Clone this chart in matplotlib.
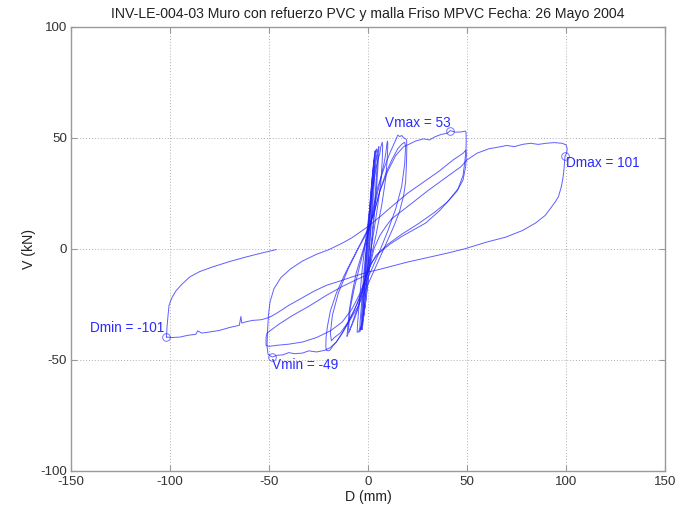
import matplotlib
matplotlib.use("Agg")
import matplotlib.pyplot as plt

plt.rcParams['font.family'] = ['Liberation Sans', 'DejaVu Sans']
plt.rcParams['axes.unicode_minus'] = False

# ---- data (D in mm, V in kN) ----
small_D = [0, 0.5, 1.0, 1.5, 1.2, 0.5, -0.3, -1.0, -1.5, -1.2, -0.5, 0.3, 1.0, 1.8, 2.2, 1.8,
           1.0, 0.0, -1.0, -1.8, -2.2, -1.9, -1.0, 0.0, 1.0, 2.0, 2.8, 3.2, 2.9, 2.0, 1.0, 0.0,
           -1.0, -2.0, -2.8, -3.2, -2.9, -2.0, -1.0, 0.0, 1.0, 2.0, 3.0, 3.5, 3.2, 2.2, 1.0, 0.0,
           -1.0, -2.0, -3.0, -3.6, -3.3, -2.2, -1.0, 0.0]
small_V = [0, 8, 16, 22, 18, 6, -5, -13, -20, -16, -6, 4, 14, 24, 30, 25,
           13, 0, -12, -22, -28, -24, -12, 2, 15, 27, 36, 40, 34, 20, 6, -6,
           -16, -26, -33, -35, -30, -17, -4, 8, 20, 31, 40, 44, 39, 24, 9, -4,
           -15, -25, -33, -36.5, -31, -17, -3, 9]

mid_D = [0, 0.8, 1.6, 2.4, 3.0, 3.6, 4.0, 3.9, 3.4, 2.6, 1.6, 0.6, -0.4, -1.2, -2.0, -2.6, -3.0,
         -2.8, -2.2, -1.4, -0.5, 0.4, 1.2, 2.0, 2.8, 3.5, 4.5, 4.8, 4.4, 3.6, 2.6, 1.5, 0.5, -0.5,
         -1.5, -2.5, -3.5, -4.2, -4.0, -3.2, -2.2, -1.0, 0, 1, 2, 3, 4, 5, 5.5, 5.3, 4.6, 3.5, 2.2,
         1, 0, -1, -2.2, -3.5, -5, -5.5, -5.2, -4.2, -3, -1.5, 0, 1]
mid_V = [9, 18, 27, 35, 40, 43, 44.5, 41, 33, 22, 10, -2, -13, -22, -29, -34, -36.5,
         -33, -24, -12, 0, 11, 21, 30, 37, 42, 45, 43, 35, 24, 12, 0, -10, -18,
         -26, -32, -36, -37.5, -33, -24, -12, 0, 9, 16, 26, 34, 40, 44, 46, 41, 31, 18, 5,
         -6, -15, -23, -30, -35, -37.6, -37.6, -33, -22, -10, 2, 12, 19]

c10_D = [0, 1, 2, 3, 4, 5, 6, 6.5, 7.2, 7.4, 7.2, 6.5, 5, 3, 1, -1, -3, -5, -7, -9, -10.2, -10.6,
         -10.3, -9.5, -8, -6, -3, 0, 2, 4, 6, 8, 9, 9.5, 9.8, 10, 9.8, 9, 7, 4, 1, -2, -5, -7,
         -8.5, -9.5, -9.8, -9, -7, -4, -1, 1]
c10_V = [9, 17, 25, 31, 36, 40, 43, 46, 48, 46.5, 40, 30, 20, 8, -3, -12, -20, -27, -32, -36, -38.5, -39.5,
         -36, -28, -20, -11, -2, 7, 14, 22, 30, 38, 43, 47, 48.5, 47.5, 42, 32, 20, 6, -6, -16, -26, -31,
         -35, -37.5, -36, -27, -18, -7, 3, 10]

c20_D = [1, 3, 5, 8, 11, 13, 14.5, 15, 16, 17, 18, 19, 19.5, 19.6, 19.4, 19, 18, 16, 13, 10, 7, 4, 1,
         -2, -5, -9, -13, -16, -18, -19, -20, -21, -21.3, -21.2, -20.5, -19, -16, -12, -8, -4, 0,
         3, 6, 9, 12, 15, 17, 18.5, 19, 18.5, 17, 14, 10, 5, 0, -5, -10, -14, -17, -18.5, -19, -18,
         -15, -10, -5, 0]
c20_V = [10, 20, 28, 36, 43, 47, 50, 51.2, 50.5, 51, 50, 49.5, 49, 45, 38, 30, 24, 17, 10, 4, -2, -8, -14,
         -20, -26, -32, -38, -42, -44, -45.5, -46, -45.8, -44, -40, -35, -28, -20, -12, -5, 2, 9,
         16, 26, 34, 40, 45, 47, 48, 46, 38, 28, 18, 8, -3, -13, -24, -33, -38, -40, -41.5, -38, -30,
         -20, -9, 0, 8]

c50a_D = [0, 3, 6, 10, 14, 18, 20.6, 24, 28, 31, 34, 37, 40, 41.6, 44, 47, 49, 49.5, 49.6, 49.5, 49,
          48, 45.5, 41, 36, 29, 22, 17, 11, 5.5, 2, 0, -2, -4, -7, -10, -13, -16, -19, -22, -26, -30,
          -33, -37, -40, -43, -46, -48.3, -49.5, -50.5, -51, -50.8, -50.3, -49.5, -47.5, -44, -39,
          -33, -26, -20, -13, -8, -4, 0]
c50a_V = [8, 16, 26, 35, 42, 46, 47, 48.5, 49.5, 49, 50.5, 51.5, 52, 53.2, 52.5, 52.6, 53, 52.5, 49, 45, 40,
          33, 27, 22, 17, 11.5, 8, 5.5, 2, -2, -6, -10, -15, -21, -28, -33, -38, -42, -44.5, -45.8, -46.5, -46,
          -47, -47.3, -46.8, -47.8, -48, -48.8, -48.2, -47.5, -44, -38, -30, -24, -18, -13, -9,
          -5.5, -2.5, -0.5, 2.5, 5, 7.5, 10]

c50b_D = [0, 5.5, 12, 20, 28, 36, 43, 48, 49.5, 49.7, 49.3, 48, 45, 40, 33, 25, 17, 10, 4, 1, -1,
          -4, -8, -13, -19, -26, -33, -40, -46, -50, -51.5, -51.5, -51, -45, -38, -30, -21, -13, -6,
          -1, 1, 3, 6, 9, 12]
c50b_V = [10, 14, 19, 25, 30, 35, 40, 43, 44.5, 42, 37, 31, 26, 21, 16, 11, 6.5, 2, -3, -8, -13,
          -20, -27, -33, -37, -40, -42, -43, -43.5, -44, -43.5, -40, -38, -34, -30, -26, -21, -17, -14,
          -12, -8, 0, 6, 10, 13.5]

c100_D = [12, 20, 30, 40, 47, 50, 55, 61, 66, 70, 74, 78, 82, 86, 90, 94, 98, 100, 100.6, 100.3,
          99.5, 99.0, 98.5, 97.6, 96.2, 94.5, 92.6, 89.5, 84.5, 78, 69.5, 60, 49, 40, 30, 20, 10.6, 5, 0,
          -8, -14, -21, -27, -33, -40, -46, -50, -54, -58.4, -62, -63.8, -64.2, -65, -70, -75, -80,
          -84, -86, -87, -91, -95, -99, -101.8]
c100_V = [13.5, 19, 26, 32.5, 37, 40, 43, 45, 45.8, 46.5, 46, 47, 47.5, 47, 47.5, 47.8, 47.5, 46.8, 45, 43,
          41.8, 36, 32, 27.8, 23.5, 21, 18.7, 15, 11.5, 8.2, 5.2, 3, 0, -2, -4, -6, -8.2, -9.5, -10.5,
          -12.7, -14.5, -16.5, -19, -22, -25.5, -29, -31, -32, -32.3, -33, -33.5, -30.5, -34.5, -35.5,
          -36.8, -37.5, -38, -37, -38.6, -39, -39.8, -40, -39.8]

ret_D = [-101.8, -101.5, -101, -100.5, -99, -97, -94, -90, -85, -78.5, -70, -61.5, -54, -46.4]
ret_V = [-39.8, -35, -30, -25.5, -22, -19, -16, -12.7, -10.3, -8.2, -5.8, -3.7, -2, -0.4]

marks_D = [41.6, 99.5, -101.8, -48.3]
marks_V = [53.2, 41.8, -39.8, -48.6]
labels = ["Vmax = 53", "Dmax = 101", "Dmin = -101", "Vmin = -49"]
label_D = [8.5, 100, -103, -48.5]
label_V = [56.5, 38.5, -35.5, -52.5]
label_ha = ["left", "left", "right", "left"]

x_ticks = [-150, -100, -50, 0, 50, 100, 150]
y_ticks = [-100, -50, 0, 50, 100]

# ---- figure ----
fig = plt.figure(figsize=(6.81, 5.08), dpi=100)
ax = fig.add_axes([0.1043, 0.0734, 0.8722, 0.874])

line_col = '#1a1aff'
for d, v in [(small_D, small_V), (mid_D, mid_V), (c10_D, c10_V), (c20_D, c20_V),
             (c50a_D, c50a_V), (c50b_D, c50b_V), (c100_D, c100_V), (ret_D, ret_V)]:
    ax.plot(d, v, color=line_col, lw=0.7, alpha=0.7)

ax.plot(marks_D, marks_V, linestyle='none', marker='o', ms=5.5, mfc='none',
        mec=line_col, mew=0.7, alpha=0.6)
for t, x, y, ha in zip(labels, label_D, label_V, label_ha):
    ax.text(x, y, t, color='#2b2bff', fontsize=9.8, ha=ha, va='center')

ax.set_xlim(-150, 150)
ax.set_ylim(-100, 100)
ax.set_xticks(x_ticks)
ax.set_yticks(y_ticks)
ax.grid(True, color='#b0b0b0', linestyle=(0, (1, 2)), linewidth=0.7)
ax.tick_params(direction='in', length=4, color='#999999', labelcolor='#333333',
               labelsize=9.6, top=True, right=True)
ax.tick_params(axis='x', pad=4)
ax.tick_params(axis='y', pad=3)
for s in ax.spines.values():
    s.set_color('#999999')
    s.set_linewidth(1.0)

ax.set_title("INV-LE-004-03 Muro con refuerzo PVC y malla Friso MPVC Fecha: 26 Mayo 2004",
             fontsize=10.2, color='#222222', pad=6)
ax.set_xlabel("D (mm)", fontsize=10.2, color='#222222', labelpad=1)
ax.set_ylabel("V (kN)", fontsize=10.2, color='#222222', labelpad=3)

fig.savefig("out.png", dpi=100)
